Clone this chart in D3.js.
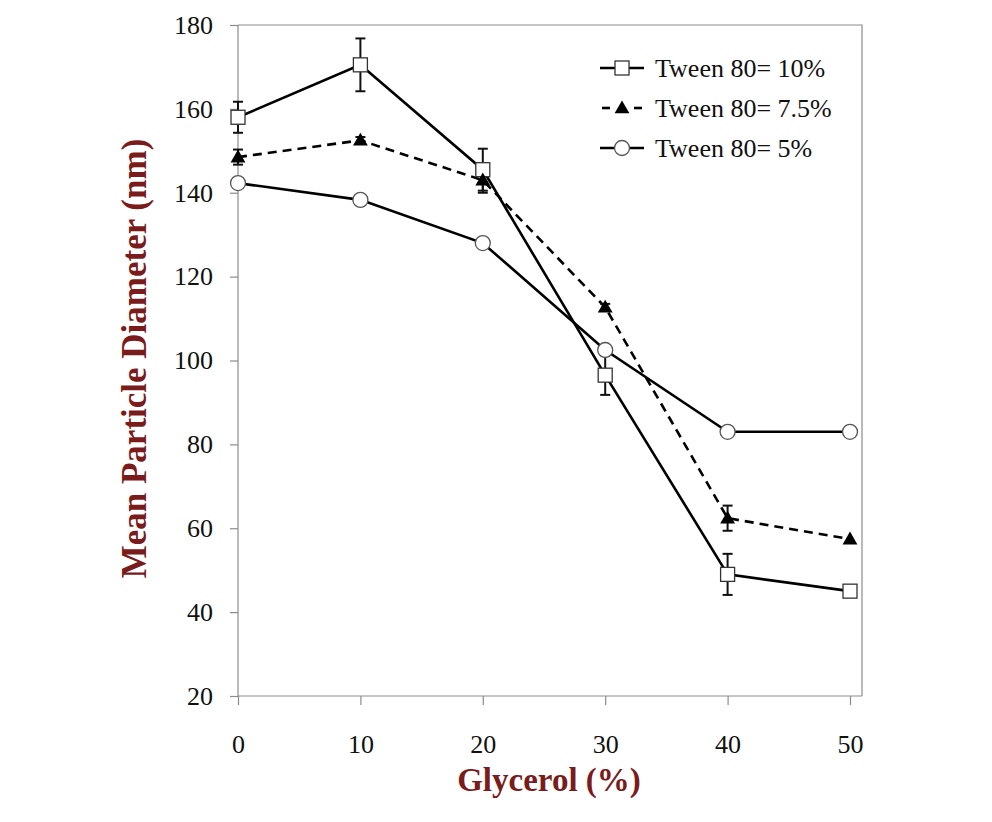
<!DOCTYPE html>
<html>
<head>
<meta charset="utf-8">
<script src="https://cdn.jsdelivr.net/npm/d3@7"></script>
<style>
  html, body { margin: 0; padding: 0; background: #fff; }
  svg { display: block; }
</style>
</head>
<body>
<svg id="chart" width="992" height="822"></svg>
<script>
const glycerol = [0, 10, 20, 30, 40, 50];
const tween10 = [158, 170.5, 145.5, 96.5, 49, 45];
const tween10Err = [3.7, 6.3, 5, 4.7, 4.9, 0];
const tween75 = [148.5, 152.5, 143, 112.7, 62.4, 57.4];
const tween75Err = [1.8, 0.8, 3, 0.8, 3, 0];
const tween5 = [142.3, 138.3, 128, 102.5, 83, 83];
const tween5Err = [0, 0, 0, 0, 0, 0];
const seriesNames = ["Tween 80= 10%", "Tween 80= 7.5%", "Tween 80= 5%"];
const xTicks = [0, 10, 20, 30, 40, 50];
const yTicks = [20, 40, 60, 80, 100, 120, 140, 160, 180];

(function () {
const svg = d3.select("#chart");
const pL = 238, pR = 862, pT = 25, pB = 696;
const x = d3.scaleLinear().domain([0, 50]).range([238, 850]);
const y = d3.scaleLinear().domain([20, 180]).range([pB, pT]);
const font = "'Liberation Serif', 'Times New Roman', serif";
const axisColor = "#8c8c8c";
const titleColor = "#7a1c1c";

svg.append("path")
  .attr("d", `M${pL},${pT}H${pR}V${pB}`)
  .attr("fill", "none").attr("stroke", axisColor).attr("stroke-width", 1.2);

const yAxis = d3.axisLeft(y).tickValues(yTicks).tickSize(8).tickPadding(17);
const gy = svg.append("g").attr("transform", `translate(${pL},0)`).call(yAxis);
const xAxis = d3.axisBottom(x).tickValues(xTicks).tickSize(9).tickPadding(30);
const gx = svg.append("g").attr("transform", `translate(0,${pB})`).call(xAxis);
gx.select(".domain").attr("d", `M${pL},0H${pR}`);
gy.select(".domain").attr("d", `M0,${pB}V${pT}`);
[gx, gy].forEach(g => {
  g.selectAll("path, line").attr("stroke", axisColor).attr("stroke-width", 1.2);
  g.selectAll("text").attr("font-family", font).attr("font-size", 26).attr("fill", "#111");
});

svg.append("text")
  .attr("x", 549).attr("y", 791)
  .attr("text-anchor", "middle")
  .attr("font-family", font).attr("font-size", 33).attr("font-weight", "bold")
  .attr("fill", titleColor)
  .text("Glycerol (%)");
svg.append("text")
  .attr("transform", `translate(146,${(pT + pB) / 2 - 2}) rotate(-90)`)
  .attr("text-anchor", "middle")
  .attr("font-family", font).attr("font-size", 35).attr("font-weight", "bold")
  .attr("fill", titleColor)
  .text("Mean Particle Diameter (nm)");

const series = [
  { name: seriesNames[0], vals: tween10, err: tween10Err, dash: null, marker: "square" },
  { name: seriesNames[1], vals: tween75, err: tween75Err, dash: "9,6", marker: "triangle" },
  { name: seriesNames[2], vals: tween5, err: tween5Err, dash: null, marker: "circle" }
];

function drawMarker(g, type, cx, cy) {
  if (type === "square") {
    g.append("rect").attr("x", cx - 7).attr("y", cy - 7).attr("width", 14).attr("height", 14)
      .attr("fill", "#fff").attr("stroke", "#333").attr("stroke-width", 1.3);
  } else if (type === "triangle") {
    g.append("path")
      .attr("d", d3.symbol().type(d3.symbolTriangle).size(95)())
      .attr("transform", `translate(${cx},${cy + 1})`)
      .attr("fill", "#000");
  } else {
    g.append("circle").attr("cx", cx).attr("cy", cy).attr("r", 7.5)
      .attr("fill", "#fff").attr("stroke", "#555").attr("stroke-width", 1.3);
  }
}

const line = d3.line().x((d, i) => x(glycerol[i])).y(d => y(d));

series.forEach(s => {
  svg.append("path").datum(s.vals).attr("d", line)
    .attr("fill", "none").attr("stroke", "#000").attr("stroke-width", 2.6)
    .attr("stroke-dasharray", s.dash);
});
series.forEach(s => {
  s.vals.forEach((v, i) => {
    const e = s.err[i];
    if (!e) return;
    const cx = x(glycerol[i]);
    const g = svg.append("g").attr("stroke", "#111").attr("stroke-width", 2);
    g.append("line").attr("x1", cx).attr("x2", cx).attr("y1", y(v + e)).attr("y2", y(v - e));
    g.append("line").attr("x1", cx - 5).attr("x2", cx + 5).attr("y1", y(v + e)).attr("y2", y(v + e));
    g.append("line").attr("x1", cx - 5).attr("x2", cx + 5).attr("y1", y(v - e)).attr("y2", y(v - e));
  });
});
series.forEach(s => {
  const g = svg.append("g");
  s.vals.forEach((v, i) => drawMarker(g, s.marker, x(glycerol[i]), y(v)));
});

const legX = 600, legY0 = 68, legDy = 40;
series.forEach((s, i) => {
  const ly = legY0 + i * legDy;
  const g = svg.append("g");
  if (s.dash) {
    g.append("line").attr("x1", legX + 2).attr("x2", legX + 10).attr("y1", ly).attr("y2", ly)
      .attr("stroke", "#000").attr("stroke-width", 2.6);
    g.append("line").attr("x1", legX + 34).attr("x2", legX + 42).attr("y1", ly).attr("y2", ly)
      .attr("stroke", "#000").attr("stroke-width", 2.6);
  } else {
    g.append("line").attr("x1", legX).attr("x2", legX + 44).attr("y1", ly).attr("y2", ly)
      .attr("stroke", "#000").attr("stroke-width", 2.6);
  }
  drawMarker(g, s.marker, legX + 22, ly);
  g.append("text").attr("x", legX + 55).attr("y", ly + 9)
    .attr("font-family", font).attr("font-size", 26).attr("fill", "#111")
    .text(s.name);
});
})();
</script>
</body>
</html>
